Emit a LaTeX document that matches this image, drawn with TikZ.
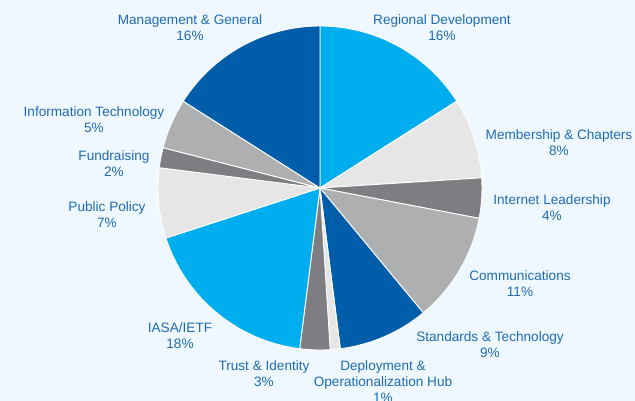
\documentclass[tikz,border=0pt]{standalone}
\usepackage{fontspec}
\setmainfont{Liberation Sans}
\definecolor{bgc}{HTML}{EEF8FE}
\definecolor{cyanc}{HTML}{00AEEF}
\definecolor{dbluec}{HTML}{005DAA}
\definecolor{lgrayc}{HTML}{E6E6E6}
\definecolor{mgrayc}{HTML}{AEAFB1}
\definecolor{dgrayc}{HTML}{7E7E82}
\definecolor{txtc}{HTML}{1F6BB4}
\begin{document}
\begin{tikzpicture}[x=1pt,y=-1pt,
  lbl/.style={align=center,text=txtc,inner sep=0pt,font=\fontsize{13.6}{16}\selectfont},
  slice/.style={draw=white,line width=0.9pt,line join=round}]
\fill[bgc] (0,0) rectangle (635,401);
\useasboundingbox (0,0) rectangle (635,401);
\coordinate (O) at (320,188);
\def\R{162pt}
\newcommand{\pieslice}[3]{%
  \path[slice,fill=#3] (O) -- ++(#1:\R) arc[start angle=#1,end angle=#2,radius=\R] -- cycle;}
\begin{scope}[y=1pt]
\pieslice{90}{32.4}{cyanc}
\pieslice{32.4}{3.6}{lgrayc}
\pieslice{3.6}{-10.8}{dgrayc}
\pieslice{-10.8}{-50.4}{mgrayc}
\pieslice{-50.4}{-82.8}{dbluec}
\pieslice{-82.8}{-86.4}{lgrayc}
\pieslice{-86.4}{-97.2}{dgrayc}
\pieslice{-97.2}{-162}{cyanc}
\pieslice{-162}{-187.2}{lgrayc}
\pieslice{-187.2}{-194.4}{dgrayc}
\pieslice{-194.4}{-212.4}{mgrayc}
\pieslice{-212.4}{-270}{dbluec}
\end{scope}
\node[lbl] (mg) at (190,28) {Management \& General\\16\%};
\node[lbl] (rd) at (442,28) {Regional Development\\16\%};
\node[lbl] (mc) at (559,143) {Membership \& Chapters\\8\%};
\node[lbl] (il) at (552,208) {Internet Leadership\\4\%};
\node[lbl] (co) at (520,284) {Communications\\11\%};
\node[lbl] (st) at (490,344.5) {Standards \& Technology\\9\%};
\node[lbl] (dh) at (383,381.5) {Deployment \&\\Operationalization Hub\\1\%};
\node[lbl] (ti) at (264,373.5) {Trust \& Identity\\3\%};
\node[lbl] (ia) at (180,336) {IASA/IETF\\18\%};
\node[lbl] (pp) at (107,214.5) {Public Policy\\7\%};
\node[lbl] (fr) at (114,163.5) {Fundraising\\2\%};
\node[lbl] (it) at (94,120) {Information Technology\\5\%};
\end{tikzpicture}
\end{document}
